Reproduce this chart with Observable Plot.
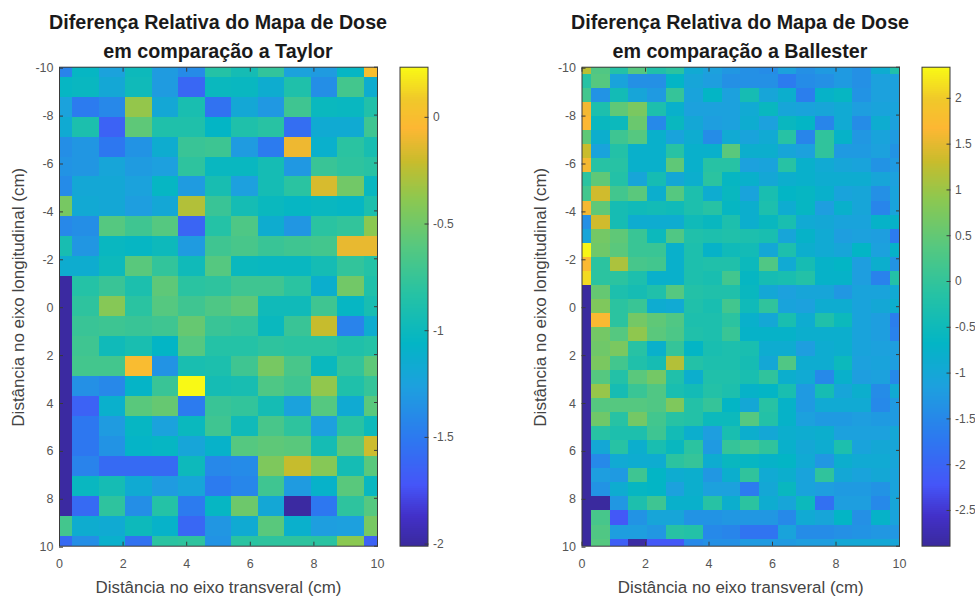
<!DOCTYPE html>
<html><head><meta charset="utf-8">
<script src="https://cdn.jsdelivr.net/npm/d3@7"></script>
<script src="https://cdn.jsdelivr.net/npm/@observablehq/plot@0.6"></script>
<style>
html,body{margin:0;padding:0;background:#fff;width:975px;height:598px;overflow:hidden}
#root{position:relative;width:975px;height:598px;font-family:"Liberation Sans",Arial,sans-serif}
.ttl{position:absolute;text-align:center;font-weight:bold;font-size:19.7px;line-height:29px;color:#1a1a1a;white-space:nowrap}
</style></head><body><div id="root"></div>
<script>
const parulaStops=[0,0.06,0.125,0.22,0.33,0.42,0.52,0.62,0.72,0.8,0.87,0.93,1];
const parulaColors=["#3a2a9e","#4230c8","#4555f8","#2d78f0","#1da0de","#03b5c5","#25c2a5","#55c880","#8cc850","#c8bc2c","#fdb733","#f0c82a","#f9fb14"];
const taylorTitle=["Diferença Relativa do Mapa de Dose","em comparação a Taylor"];
const ballesterTitle=["Diferença Relativa do Mapa de Dose","em comparação a Ballester"];
const xLabel="Distância no eixo transveral (cm)";
const yLabel="Distância no eixo longitudinal (cm)";
const xTicks=[0,2,4,6,8,10];
const yTicks=[-10,-8,-6,-4,-2,0,2,4,6,8,10];
const taylorDomain=[-2.01,0.235];
const taylorTicks=[-2,-1.5,-1,-0.5,0];
const ballesterDomain=[-2.89,2.34];
const ballesterTicks=[-2.5,-2,-1.5,-1,-0.5,0,0.5,1,1.5,2];
const taylor=[
[-1.45,-1.05,-1.25,-1,-1.3,-1.4,-.85,-.95,-.78,-1.25,-1.3,-1.05,0],
[-1.05,-1.03,-1.2,-.98,-1.3,-1.62,-1.02,-1.03,-1.15,-.88,-1.38,-.7,-1.15],
[-1.25,-1.5,-1.42,-.37,-1.2,-.92,-1.55,-1.2,-1.32,-.72,-1.02,-1.03,-.87],
[-1.17,-.9,-1.65,-.58,-.88,-.88,-1.07,-.88,-.83,-1.58,-1.17,-1.17,-.72],
[-1.38,-1.33,-1.52,-1.35,-1.15,-.75,-.73,-1.3,-1.5,-.1,-1.12,-.82,-.93],
[-1.35,-1.33,-1.22,-1.3,-1.27,-.8,-1.03,-1.03,-.95,-1.32,-.75,-.8,-.83],
[-1.4,-1.2,-1.2,-1.25,-1.05,-1.3,-.93,-1.27,-.95,-.82,-.17,-.5,-1.03],
[-.48,-1.18,-1.2,-1.28,-1.2,-.28,-.75,-.95,-1.02,-1.05,-1.03,-1.05,-.9],
[-1.42,-1.38,-.62,-.72,-.62,-1.63,-.85,-.65,-1.15,-1.33,-.82,-.78,-.4],
[-.93,-1.33,-1.03,-1.05,-1,-1.3,-.72,-.68,-.75,-.72,-.7,-.12,-.12],
[-1.15,-1.15,-1,-.6,-.78,-.98,-.62,-1.02,-1.03,-1.03,-.95,-.78,-.85],
[-2,-.85,-.75,-.9,-.58,-.82,-.8,-.72,-.72,-.82,-1.13,-.5,-.88],
[-2,-.8,-.42,-.82,-.62,-.72,-.65,-.58,-.98,-.98,-.72,-1.05,-.93],
[-2,-.75,-.73,-.75,-.72,-.55,-.75,-.78,-1.02,-.75,-.22,-1.45,-1.15],
[-2,-.72,-.98,-.92,-1.07,-.62,-.85,-.85,-.8,-.82,-.82,-.88,-.85],
[-2,-.7,-.7,-.02,-1.35,-.92,-.9,-.72,-.48,-.68,-1.02,-.78,-.58],
[-2,-1.37,-1.42,-1.08,-.75,.23,-.95,-.93,-.65,-.72,-.38,-.88,-.77],
[-2,-1.65,-1.12,-.6,-.55,-1.5,-.75,-.78,-.95,-1.25,-.62,-1.17,-.6],
[-2,-1.52,-1.3,-1.05,-1.25,-1.02,-.72,-.98,-.68,-.8,-1.27,-.83,-1],
[-2,-1.52,-1.35,-1.08,-1.05,-1.22,-1.1,-.62,-.58,-.6,-.95,-.58,-.2],
[-2,-1.45,-1.6,-1.6,-1.6,-1,-1.42,-1.4,-.45,-.22,-.42,-.95,-.6],
[-2,-1.03,-.95,-1.17,-1.3,-1.22,-1.5,-1.43,-.72,-1.3,-1.1,-.6,-1.03],
[-2,-1.6,-.8,-1.38,-.85,-1.5,-1.05,-.52,-1.2,-2,-1.52,-.8,-.62],
[-.7,-1.15,-1.17,-1,-1.1,-1.62,-1.33,-1.17,-.6,-1.12,-1.28,-1.27,-.48],
[-1.6,-1.38,-1.12,-1.55,-.82,-.8,-1.35,-.82,-.8,-.8,-.82,-.4,-1.65]
];
const ballester=[
[1.2,.3,-.2,.35,-.25,-.1,-.95,-1.15,-1.3,-1.4,-1.45,-1.15,-1.4,-1.25,-1.25,-1.4,-.9,-.25],
[-.15,.35,-1.1,-1.4,-1.4,-.7,-1.05,-1.2,-1.4,-1.4,-1.4,-1.7,-1.45,-1.4,-1.25,-1.4,-1.15,-1.15],
[.15,-1.35,-.45,-1.05,-1.25,0,-1.1,-.7,-1.15,-.4,-1.05,-.85,-1.65,-.75,-.65,-1.35,-1.15,-1.15],
[1.6,-.3,.45,.7,-.3,-.8,-1.15,-1.15,-1.15,-.95,-.6,-1.05,-1.1,-1.05,-.95,-1.2,-1.1,-1.1],
[1.65,-.6,-.55,.55,-1.5,-.6,-1,-1.2,-1.15,-.9,-1.15,-.6,-.7,-1.55,-.95,-1.45,-.9,-1.15],
[.45,-.85,.1,.35,-.8,-1.1,-.9,-1.45,-.95,-1.1,-.95,-.15,-1.55,-.05,-.75,-1.3,-1.1,-1.25],
[1.3,-1.1,-.2,-.8,-.8,-.15,-.8,-.8,.4,-.85,-.85,-1.05,-1.15,-.05,-1.25,-1.25,-1.15,-1.35],
[1.6,-.15,-.15,-.8,-.8,.45,-.8,-.15,-.15,-1.15,-1.1,-.15,-.8,-.95,-1.05,-1.1,-1.35,-1.25],
[-.1,.45,-.2,-1.05,-.4,-1,-.85,-.1,-.65,-.8,-1,-.85,-.8,-.9,-.9,-.9,-1.05,-1.15],
[.15,1.35,.15,.4,-.85,.35,-.3,-.9,-.6,-1.1,-.35,-.7,-.65,-.8,-1.1,-1.05,-1.4,-1.1],
[1.6,.45,-.4,-.5,-.45,-.5,-.3,-.15,-.65,-.85,-.3,-.9,-.65,-1.2,-.8,-1.05,-1.55,-1.1],
[-1.4,1.35,-.4,-.9,-.9,-.9,-.5,-.6,-.3,-.85,-.6,-.35,-.95,-1,-1.1,-1.1,-.75,-.75],
[-1.05,.65,.45,.05,-.55,.3,-.25,-.3,-.25,-.3,-.35,-1.05,-.75,-.95,-1.2,-1.15,-1.2,-1.7],
[2.3,.6,.4,.05,.05,-.8,-.3,-.75,-.5,-.45,-1,-.3,-.85,-.95,-1.05,-.7,-1.15,-.75],
[1.7,-.1,1.1,.2,.15,-.8,-.3,-.25,-.25,-.55,.3,-.95,-.4,-.75,-.7,-1.2,-.85,-1.35],
[2.1,-.1,-.1,-.3,-.8,-.8,-.3,-.35,.15,-.65,-.4,-.35,-.2,-.75,-.75,-1.2,-1.6,-.2],
[-2.89,.5,-.3,-.4,-.25,.35,-.2,-.25,-.25,-.6,-1,-1.15,-1.05,-1.05,-1.3,-1.1,-1.1,-.95],
[-2.89,.75,-.1,.05,-.9,-.95,-.25,-.35,.15,-.5,-.05,-1.1,-1.15,-.9,-.9,-1.1,-1,-.85],
[-2.89,1.7,-.1,.65,.45,.3,-.3,-.3,-.1,-.8,-1,-.35,-.9,-.25,-.55,-1.1,-1.2,-1.65],
[-2.89,.65,.35,.9,.4,.25,-.25,-.3,.05,-.75,-.75,-.75,-.85,-.85,-.85,-1.1,-1.2,-1.6],
[-2.89,.6,.7,-.15,-.8,0,-.7,-.35,-.3,-.35,-.9,-.9,-1.2,-.9,-.85,-1.1,-1.15,-1.2],
[-2.89,.7,.15,-.25,-.4,1.15,-.2,-.3,-.3,-.4,-1,.3,-.9,-.9,-.55,-1.15,-1.1,-1.2],
[-2.89,.35,-.2,.4,.65,-.25,-.85,-.25,-.25,-.35,-.05,-.85,-.95,-1.5,-.8,-1.2,-1.15,-1.5],
[-2.89,.95,-.4,.05,.3,-.35,-.45,-.2,-.3,-.75,-.7,-.35,-1.25,-.4,-1.05,-.85,-1.45,-.95],
[-2.89,.35,.35,.35,.3,.75,-.2,0,-.7,-1,-.15,-.75,-1.25,-.95,-.95,-.95,-1.5,-1.25],
[-2.89,.6,-.15,.65,.15,-.15,-.2,-.55,-.55,.35,-.2,-.75,-1.15,-1.25,-1.25,-1.2,-1.25,-1.25],
[-2.89,-.15,-.3,-.3,.1,-.45,-.85,-1.2,-.35,-.85,-1,-.85,-.9,-.85,-1.15,-1.15,-1.15,-1],
[-2.89,-1,-.15,-.85,-.35,-.6,-.1,-1.25,0,.15,-.05,-.8,-1,-.9,-.3,-1.1,-1,-1.05],
[-2.89,-1.5,-.95,-.9,-.9,-.1,0,-.9,-.6,-.65,-.75,-.7,-.95,-1.3,-.85,-.95,-.95,-1.05],
[-2.89,-1.2,-1.25,.1,-.7,-.9,-.85,-1.3,-.85,-.05,-.95,-.85,-1.1,-.05,-1,-1.1,-1,-1.1],
[-2.89,-1.35,-.9,-.65,-.7,-1.15,-.85,-1.15,-1.15,-1.7,-1,-.6,-1.1,-1.2,-1.25,-1.25,-1.35,-1.1],
[-2.89,-2.89,-1.3,-.3,.1,-.8,-.8,-.15,-.85,-.1,-.9,-1.05,-.55,-1.85,-1.2,-1.2,-1.5,-1.05],
[-2.89,.2,-2.2,-1.35,-1.05,-1.05,-1.35,-1.35,-1.3,-1.3,-1.3,-1.5,-.95,-1.05,-.7,-1.4,-.75,-1.1],
[-2.89,.3,-1.2,-1.2,-1.3,-.15,-.2,-1.5,-1.55,-1.8,-1.8,-1.1,-1.45,-1.45,-1.4,-1.35,-1.3,-1.3],
[-2.89,.35,-2.1,-2.85,-2.2,-2.2,-1.5,-1.4,-1.4,-1.25,-1.25,-1.25,-1.2,-1.2,-1,-1,-1,-1.05]
];
const parula=d3.scaleLinear().domain(parulaStops).range(parulaColors);
const ink="#3a3a3a";
const root=document.getElementById("root");
function cellsOf(matrix){
  const nr=matrix.length,nc=matrix[0].length,dx=10/(nc-1),dy=20/(nr-1);
  return matrix.flatMap((row,r)=>row.map((v,c)=>({
    x1:Math.max(0,(c-.5)*dx),x2:Math.min(10,(c+.5)*dx),
    y1:Math.max(-10,-10+(r-.5)*dy),y2:Math.min(10,-10+(r+.5)*dy),v})));
}
function place(node,left){node.style.position="absolute";node.style.left=left+"px";node.style.top="0";root.appendChild(node);}
const blank=()=>"";
function heat(matrix,domain,left,x0,x1){
  const p=Plot.plot({width:x1-left+10,height:598,marginLeft:x0-left,marginRight:10,marginTop:66.7,marginBottom:52.3,
    style:{background:"transparent",fontFamily:"Liberation Sans, Arial, sans-serif",fontSize:"12.5px",color:ink,overflow:"visible"},
    x:{domain:[0,10]},y:{domain:[10,-10]},
    color:{type:"linear",domain,interpolate:parula},
    marks:[
      Plot.rect(cellsOf(matrix),{x1:"x1",x2:"x2",y1:"y1",y2:"y2",fill:"v",shapeRendering:"crispEdges"}),
      Plot.frame({stroke:ink}),
      Plot.axisX({ticks:xTicks,tickSize:-4,tickPadding:17,tickFormat:d=>String(d),label:null,fontSize:12.5,stroke:ink,fill:"#555"}),
      Plot.axisX({anchor:"top",ticks:xTicks,tickSize:-4,tickFormat:blank,label:null,stroke:ink}),
      Plot.axisY({ticks:yTicks,tickSize:-4,tickPadding:10,tickFormat:d=>String(d),label:null,fontSize:12.5,dy:1,stroke:ink,fill:"#555"}),
      Plot.axisY({anchor:"right",ticks:yTicks,tickSize:-4,tickFormat:blank,label:null,stroke:ink}),
      Plot.text([xLabel],{text:d=>d,frameAnchor:"bottom",lineAnchor:"middle",dy:41,fontSize:16.9,fill:"#444"}),
      Plot.text([yLabel],{text:d=>d,frameAnchor:"left",rotate:-90,textAnchor:"middle",dx:-41,dy:-9.5,fontSize:17,fill:"#444"})
    ]});
  place(p,left);
}
function bar(domain,ticks,left){
  const step=(domain[1]-domain[0])/240;
  const bands=d3.range(240).map(i=>domain[0]+i*step);
  const p=Plot.plot({width:80,height:598,marginLeft:0.5,marginRight:51.5,marginTop:66.7,marginBottom:52.3,
    style:{background:"transparent",fontFamily:"Liberation Sans, Arial, sans-serif",fontSize:"12px",color:ink,overflow:"visible"},
    x:{domain:[0,1],axis:null},y:{domain},
    color:{type:"linear",domain,interpolate:parula},
    marks:[
      Plot.rect(bands,{x1:0,x2:1,y1:d=>d,y2:d=>d+step,fill:d=>d,shapeRendering:"crispEdges"}),
      Plot.frame({stroke:ink}),
      Plot.axisY({anchor:"right",ticks,tickSize:-4,tickPadding:9,tickFormat:d=>String(d),label:null,fontSize:12,stroke:ink,fill:"#555"})
    ]});
  place(p,left);
}
function title(lines,cx){
  const d=document.createElement("div");d.className="ttl";
  d.style.left=(cx-200)+"px";d.style.width="400px";d.style.top="8px";
  d.innerHTML=lines.join("<br>");root.appendChild(d);
}
heat(taylor,taylorDomain,0,59,377);
bar(taylorDomain,taylorTicks,398.5);
heat(ballester,ballesterDomain,522,581.5,899);
bar(ballesterDomain,ballesterTicks,920.5);
title(taylorTitle,218);
title(ballesterTitle,740);
</script></body></html>
